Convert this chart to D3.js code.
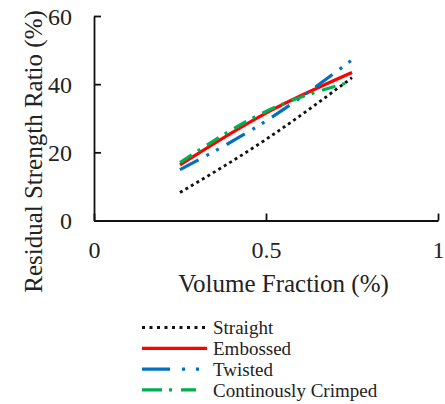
<!DOCTYPE html>
<html>
<head>
<meta charset="utf-8">
<script src="https://cdn.jsdelivr.net/npm/d3@7"></script>
<style>
  body { margin: 0; background: #fff; }
  svg text { font-family: "Liberation Serif", "Times New Roman", serif; fill: #222; }
</style>
</head>
<body>
<svg id="chart" width="445" height="404"></svg>
<script>
// values
const fractions = [0.25, 0.5, 0.75]
const straight = [8.2, 23.8, 41.9]
const embossed = [16.3, 31.5, 43.4]
const twisted = [14.9, 29.2, 47.1]
const crimped = [17.0, 32.0, 40.8]
const xTicks = [0, 0.5, 1]
const yTicks = [0, 20, 40, 60]

const series = [
  { name: 'Straight', values: straight, color: '#111', width: 2.8, dash: '3 3.4', legendDash: '3 4.5' },
  { name: 'Embossed', values: embossed, color: '#ff0000', width: 3.2, dash: null, legendDash: null },
  { name: 'Twisted', values: twisted, color: '#0070c0', width: 3.2, dash: '21 9 3 8 3 9', legendDash: '28 12 3 11 3 20' },
  { name: 'Continously Crimped', values: crimped, color: '#00b050', width: 3.2, dash: '14 7 3 8', legendDash: '20 7 3 9 15 50' }
]

const svg = d3.select('#chart')
const x = d3.scaleLinear().domain([0, 1]).range([94, 438])
const y = d3.scaleLinear().domain([0, 60]).range([220.5, 16])

// axes with inside ticks
const xAxis = svg.append('g').attr('transform', `translate(0,${y(0)})`)
  .call(d3.axisBottom(x).tickValues(xTicks).tickSizeInner(-7).tickSizeOuter(0).tickFormat(d3.format('')))
const yAxis = svg.append('g').attr('transform', `translate(${x(0)},0)`)
  .call(d3.axisLeft(y).tickValues(yTicks).tickSizeInner(-7).tickSizeOuter(0))

for (const ax of [xAxis, yAxis]) {
  ax.select('.domain').attr('stroke', '#111').attr('stroke-width', 1.8)
  ax.selectAll('.tick line').attr('stroke', '#111').attr('stroke-width', 1.8)
  ax.selectAll('.tick text').attr('font-size', '24px').attr('fill', '#222')
}
xAxis.selectAll('.tick text').attr('dy', null).attr('y', 37.5)
yAxis.selectAll('.tick text').attr('x', -22).attr('dy', '0.35em')

// axis titles
svg.append('text')
  .attr('x', 283.5).attr('y', 292)
  .attr('text-anchor', 'middle').attr('font-size', '25px')
  .text('Volume Fraction (%)')
svg.append('text')
  .attr('transform', 'translate(42,151.5) rotate(-90)')
  .attr('text-anchor', 'middle').attr('font-size', '25px')
  .text('Residual Strength Ratio (%)')

// series lines
const line = d3.line()
  .x((d, i) => x(fractions[i]))
  .y(d => y(d))
  .curve(d3.curveMonotoneX)

series.forEach(s => {
  svg.append('path')
    .datum(s.values)
    .attr('d', line)
    .attr('fill', 'none')
    .attr('stroke', s.color)
    .attr('stroke-width', s.width)
    .attr('stroke-dasharray', s.dash)
})

// legend
const legend = svg.append('g')
series.forEach((s, i) => {
  const ly = 327.5 + i * 20.8
  legend.append('line')
    .attr('x1', 142).attr('x2', 207)
    .attr('y1', ly).attr('y2', ly)
    .attr('stroke', s.color)
    .attr('stroke-width', s.width)
    .attr('stroke-dasharray', s.legendDash)
  legend.append('text')
    .attr('x', 213).attr('y', ly)
    .attr('dy', '0.35em')
    .attr('font-size', '19px')
    .text(s.name)
})
</script>
</body>
</html>
